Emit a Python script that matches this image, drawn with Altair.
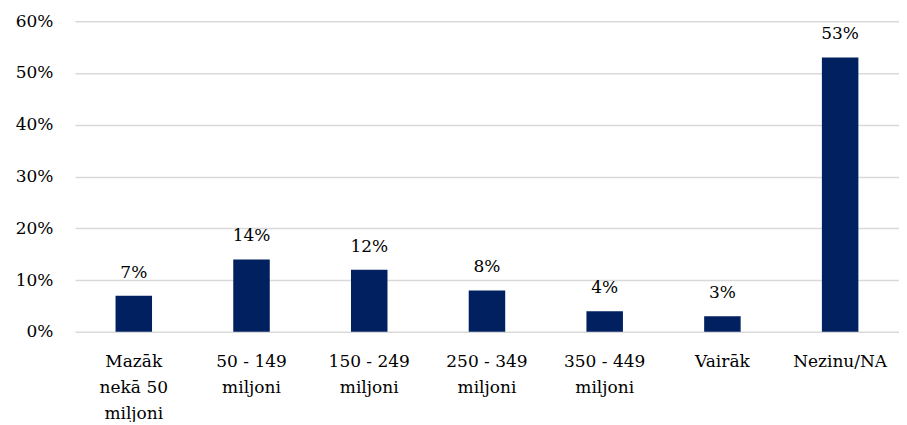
import altair as alt
import pandas as pd

categories = ["Mazāk|nekā 50|miljoni", "50 - 149|miljoni", "150 - 249|miljoni",
              "250 - 349|miljoni", "350 - 449|miljoni", "Vairāk", "Nezinu/NA"]
values = [0.07, 0.14, 0.12, 0.08, 0.04, 0.03, 0.53]
labels = ["7%", "14%", "12%", "8%", "4%", "3%", "53%"]

df = pd.DataFrame({"cat": categories, "val": values, "lab": labels})

FONT = "DejaVu Serif"

x = alt.X("cat:N", sort=categories, title=None,
          scale=alt.Scale(paddingInner=0.69, paddingOuter=0.345),
          axis=alt.Axis(labelAngle=0, labelExpr="split(datum.label, '|')",
                        labelFont=FONT, labelFontSize=17, labelColor="#000000",
                        labelLineHeight=26, labelPadding=22, labelBaseline="top",
                        ticks=False, domain=False, labelLimit=200))
y = alt.Y("val:Q", title=None,
          scale=alt.Scale(domain=[0, 0.6], nice=False),
          axis=alt.Axis(format=".0%", values=[0, 0.1, 0.2, 0.3, 0.4, 0.5, 0.6],
                        labelFont=FONT, labelFontSize=17, labelColor="#000000",
                        labelPadding=22, ticks=False, domain=False,
                        gridColor="#d9d9d9", gridWidth=1.5))

bars = alt.Chart(df).mark_bar(color="#002060").encode(x=x, y=y)
text = alt.Chart(df).mark_text(font=FONT, fontSize=17, color="#000000",
                               baseline="alphabetic", dy=-18).encode(
    x=alt.X("cat:N", sort=categories), y="val:Q", text="lab:N")

chart = (bars + text).properties(
    width=825, height=311,
    autosize=alt.AutoSizeParams(type="none"),
    padding={"left": 67, "top": 13, "right": 0, "bottom": 90},
).configure_view(stroke=None)

chart.save("out.html", embed_options={"renderer": "svg", "actions": False})
